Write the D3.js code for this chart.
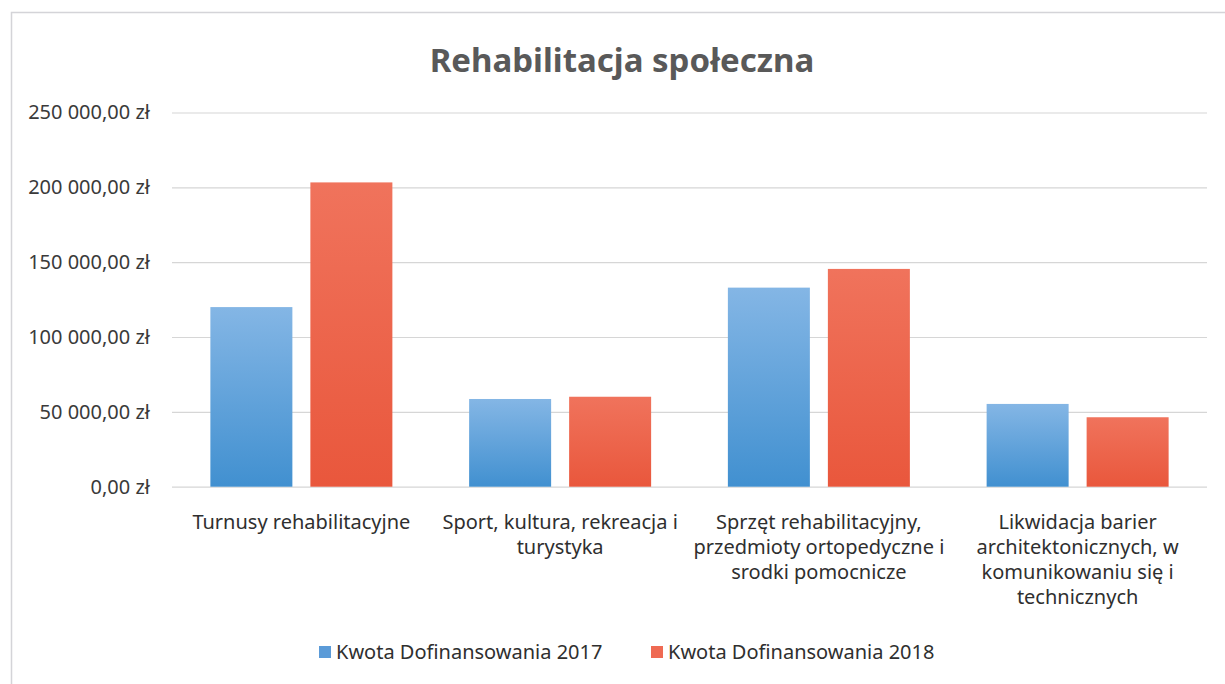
<!doctype html>
<html>
<head>
<meta charset="utf-8">
<script src="https://cdnjs.cloudflare.com/ajax/libs/d3/7.8.5/d3.min.js"></script>
<style>
  body { margin: 0; background: #fff; }
  svg { display: block; font-family: "Noto Sans", "Open Sans", sans-serif; }
</style>
</head>
<body>
<svg width="1225" height="684"></svg>
<script>
// chart data
var title = "Rehabilitacja społeczna";
var categories = [
    ["Turnusy rehabilitacyjne"],
    ["Sport, kultura, rekreacja i", "turystyka"],
    ["Sprzęt rehabilitacyjny,", "przedmioty ortopedyczne i", "srodki pomocnicze"],
    ["Likwidacja barier", "architektonicznych, w", "komunikowaniu się i", "technicznych"]
];
var seriesNames = ["Kwota Dofinansowania 2017", "Kwota Dofinansowania 2018"];
var values2017 = [120000, 58600, 133000, 55300];
var values2018 = [203300, 60100, 145500, 46400];
var yTicks = [0, 50000, 100000, 150000, 200000, 250000];

var svg = d3.select("svg");
var plotL = 172, plotR = 1207, plotT = 112.5, plotB = 486.7;

// frame of the scanned page
svg.append("path")
    .attr("d", "M11.5,684 V12.5 H1225")
    .attr("fill", "none")
    .attr("stroke", "#d4d4d8")
    .attr("stroke-width", 1.5);

var defs = svg.append("defs");
var grads = [["g17", "#84b6e5", "#4190d0"], ["g18", "#f0735c", "#e9573c"]];
grads.forEach(function (g) {
    var lg = defs.append("linearGradient").attr("id", g[0])
        .attr("x1", 0).attr("y1", 0).attr("x2", 0).attr("y2", 1);
    lg.append("stop").attr("offset", "0%").attr("stop-color", g[1]);
    lg.append("stop").attr("offset", "100%").attr("stop-color", g[2]);
});
var legendColors = ["#5b9bd8", "#ef6a53"];

var x0 = d3.scaleBand().domain(d3.range(categories.length)).range([plotL, plotR]);
var x1 = d3.scaleBand().domain([0, 1])
    .range([(x0.bandwidth() - 182) / 2, (x0.bandwidth() + 182) / 2])
    .paddingInner(0.18);
var y = d3.scaleLinear().domain([0, 250000]).range([plotB, plotT]);

var pl = d3.formatLocale({ decimal: ",", thousands: " ", grouping: [3], currency: ["", " zł"] });
var fmt = pl.format("$,.2f");

// gridlines + y labels
var yAxis = svg.append("g")
    .attr("transform", "translate(" + plotL + ",0)")
    .call(d3.axisLeft(y).tickValues(yTicks).tickSize(-(plotR - plotL)).tickPadding(22).tickFormat(fmt));
yAxis.select(".domain").remove();
yAxis.selectAll(".tick line").attr("stroke", "#d6d6d6").attr("stroke-width", 1.2);
yAxis.selectAll(".tick text")
    .attr("fill", "#3a3a3a")
    .style("font-size", "20px")
    .style("font-family", "'Noto Sans', sans-serif");

// bars
var data = categories.map(function (c, i) { return [values2017[i], values2018[i]]; });
var groups = svg.selectAll(".grp").data(data).enter().append("g")
    .attr("class", "grp")
    .attr("transform", function (d, i) { return "translate(" + x0(i) + ",0)"; });
groups.selectAll("rect").data(function (d) { return d; }).enter().append("rect")
    .attr("x", function (d, j) { return x1(j); })
    .attr("y", function (d) { return y(d); })
    .attr("width", x1.bandwidth())
    .attr("height", function (d) { return plotB - y(d); })
    .attr("fill", function (d, j) { return "url(#" + grads[j][0] + ")"; });

// category labels
svg.selectAll(".cat").data(categories).enter().append("text")
    .attr("class", "cat")
    .attr("text-anchor", "middle")
    .attr("fill", "#2f2f2f")
    .style("font-size", "20px")
    .each(function (lines, i) {
        var t = d3.select(this);
        lines.forEach(function (ln, k) {
            t.append("tspan")
                .attr("x", x0(i) + x0.bandwidth() / 2)
                .attr("y", 529 + k * 25)
                .text(ln);
        });
    });

// title
svg.append("text")
    .attr("x", 622).attr("y", 72)
    .attr("text-anchor", "middle")
    .attr("fill", "#595959")
    .style("font-size", "33px")
    .style("font-weight", "bold")
    .text(title);

// legend
var legendX = [319, 651];
var lg = svg.selectAll(".leg").data(seriesNames).enter().append("g")
    .attr("class", "leg")
    .attr("transform", function (d, i) { return "translate(" + legendX[i] + ",646)"; });
lg.append("rect").attr("width", 12).attr("height", 12)
    .attr("fill", function (d, i) { return legendColors[i]; });
lg.append("text").attr("x", 17).attr("y", 13)
    .attr("fill", "#2f2f2f")
    .style("font-size", "20px")
    .text(function (d) { return d; });
</script>
</body>
</html>
